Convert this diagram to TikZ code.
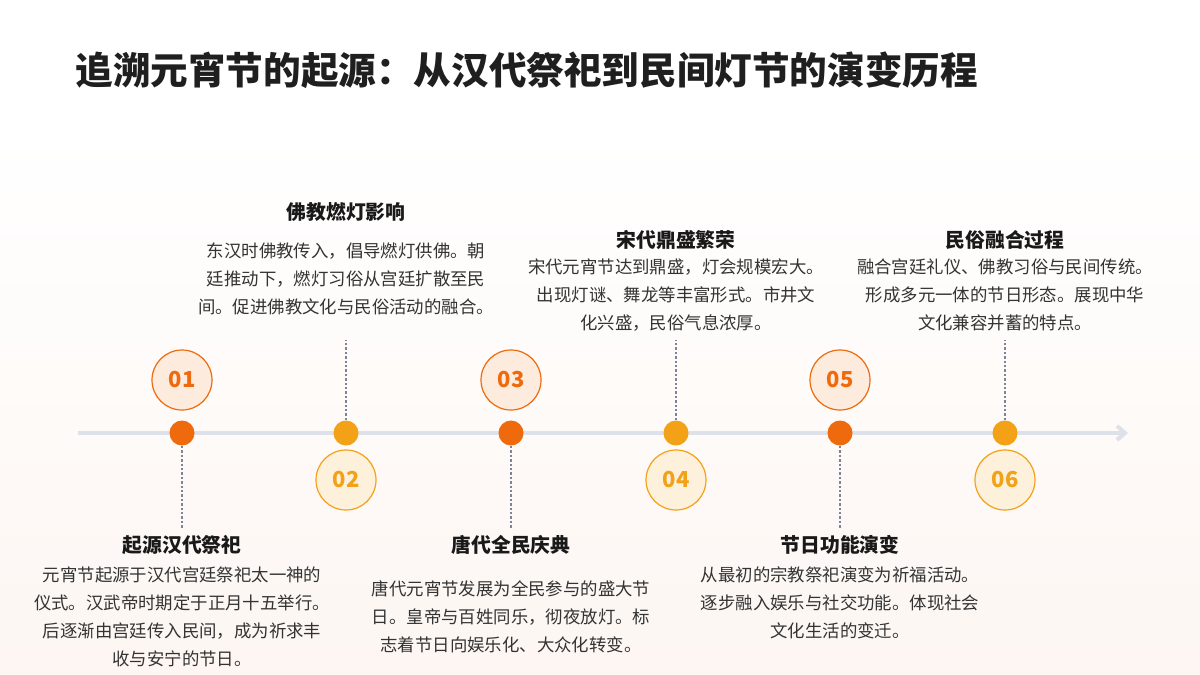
\documentclass[tikz,border=0pt]{standalone}
\usepackage{fontspec}
\setmainfont{Noto Sans CJK SC}
\usetikzlibrary{arrows.meta}
\definecolor{oA}{HTML}{EE6A0C}
\definecolor{oB}{HTML}{F3A116}
\definecolor{fA}{HTML}{FDEBDD}
\definecolor{fB}{HTML}{FDF1DC}
\definecolor{axis}{HTML}{DEE1EA}
\definecolor{dot}{HTML}{7E8398}
\definecolor{txt}{HTML}{333333}
\tikzset{
 x=0.5pt,y=-0.5pt,
 dotA/.style={circle,fill=oA,minimum size=12.5pt,inner sep=0},
 dotB/.style={circle,fill=oB,minimum size=12.5pt,inner sep=0},
 numA/.style={circle,draw=oA,fill=fA,line width=0.6pt,minimum size=30pt,inner sep=0,text=oA,font=\bfseries\fontsize{11}{13}\selectfont},
 numB/.style={circle,draw=oB,fill=fB,line width=0.6pt,minimum size=30pt,inner sep=0,text=oB,font=\bfseries\fontsize{11}{13}\selectfont},
 conn/.style={dot,densely dotted,line width=1.2pt},
 ttl/.style={font=\bfseries\fontsize{9.9}{11}\selectfont,text=black!90},
 body/.style={align=center,font=\fontsize{8.7}{14}\selectfont,text=txt,inner sep=0},
}
\begin{document}
\begin{tikzpicture}
\useasboundingbox (0,0) rectangle (1200,675);
\shade[top color=white,bottom color=white] (0,0) rectangle (1200,130);
\shade[top color=white,bottom color={rgb,255:red,253;green,246;blue,242}] (0,130) rectangle (1200,675);
\node[anchor=west,inner sep=0,font=\bfseries\fontsize{18.8}{21}\selectfont,text=black!88] (title) at (75,70) {追溯元宵节的起源：从汉代祭祀到民间灯节的演变历程};
\coordinate (as) at (78,433); \coordinate (ae) at (1128,433);
\draw[axis,line width=2pt,-{Straight Barb[length=4pt,width=7pt]}] (as) -- (ae);
% dots
\node[dotA] (d1) at (182,433) {};
\node[dotB] (d2) at (346,433) {};
\node[dotA] (d3) at (511,433) {};
\node[dotB] (d4) at (676,433) {};
\node[dotA] (d5) at (840,433) {};
\node[dotB] (d6) at (1005,433) {};
\node[numA] (n1) at (182,380) {01};
\node[numB] (n2) at (346,480) {02};
\node[numA] (n3) at (511,380) {03};
\node[numB] (n4) at (676,480) {04};
\node[numA] (n5) at (840,380) {05};
\node[numB] (n6) at (1005,480) {06};
\coordinate (e1) at (182,528); \coordinate (e3) at (511,528); \coordinate (e5) at (840,528);
\coordinate (e2) at (346,340); \coordinate (e4) at (676,340); \coordinate (e6) at (1005,340);
\foreach \i in {1,...,6} \draw[conn] (d\i) -- (e\i);
% odd texts
\node[ttl] (t1) at (182,545) {起源汉代祭祀};
\node[body,anchor=north] (b1) at (182,566) {元宵节起源于汉代宫廷祭祀太一神的\\仪式。汉武帝时期定于正月十五举行。\\后逐渐由宫廷传入民间，成为祈求丰\\收与安宁的节日。};
\node[ttl] (t3) at (511,545) {唐代全民庆典};
\node[body,anchor=north] (b3) at (511,580) {唐代元宵节发展为全民参与的盛大节\\日。皇帝与百姓同乐，彻夜放灯。标\\志着节日向娱乐化、大众化转变。};
\node[ttl] (t5) at (840,545) {节日功能演变};
\node[body,anchor=north] (b5) at (840,566) {从最初的宗教祭祀演变为祈福活动。\\逐步融入娱乐与社交功能。体现社会\\文化生活的变迁。};
% even texts
\node[ttl] (t2) at (346,212) {佛教燃灯影响};
\node[body,anchor=north] (b2) at (346,242) {东汉时佛教传入，倡导燃灯供佛。朝\\廷推动下，燃灯习俗从宫廷扩散至民\\间。促进佛教文化与民俗活动的融合。};
\node[ttl] (t4) at (676,240) {宋代鼎盛繁荣};
\node[body,anchor=north] (b4) at (676,258) {宋代元宵节达到鼎盛，灯会规模宏大。\\出现灯谜、舞龙等丰富形式。市井文\\化兴盛，民俗气息浓厚。};
\node[ttl] (t6) at (1005,240) {民俗融合过程};
\node[body,anchor=north] (b6) at (1005,258) {融合宫廷礼仪、佛教习俗与民间传统。\\形成多元一体的节日形态。展现中华\\文化兼容并蓄的特点。};
\end{tikzpicture}
\end{document}
